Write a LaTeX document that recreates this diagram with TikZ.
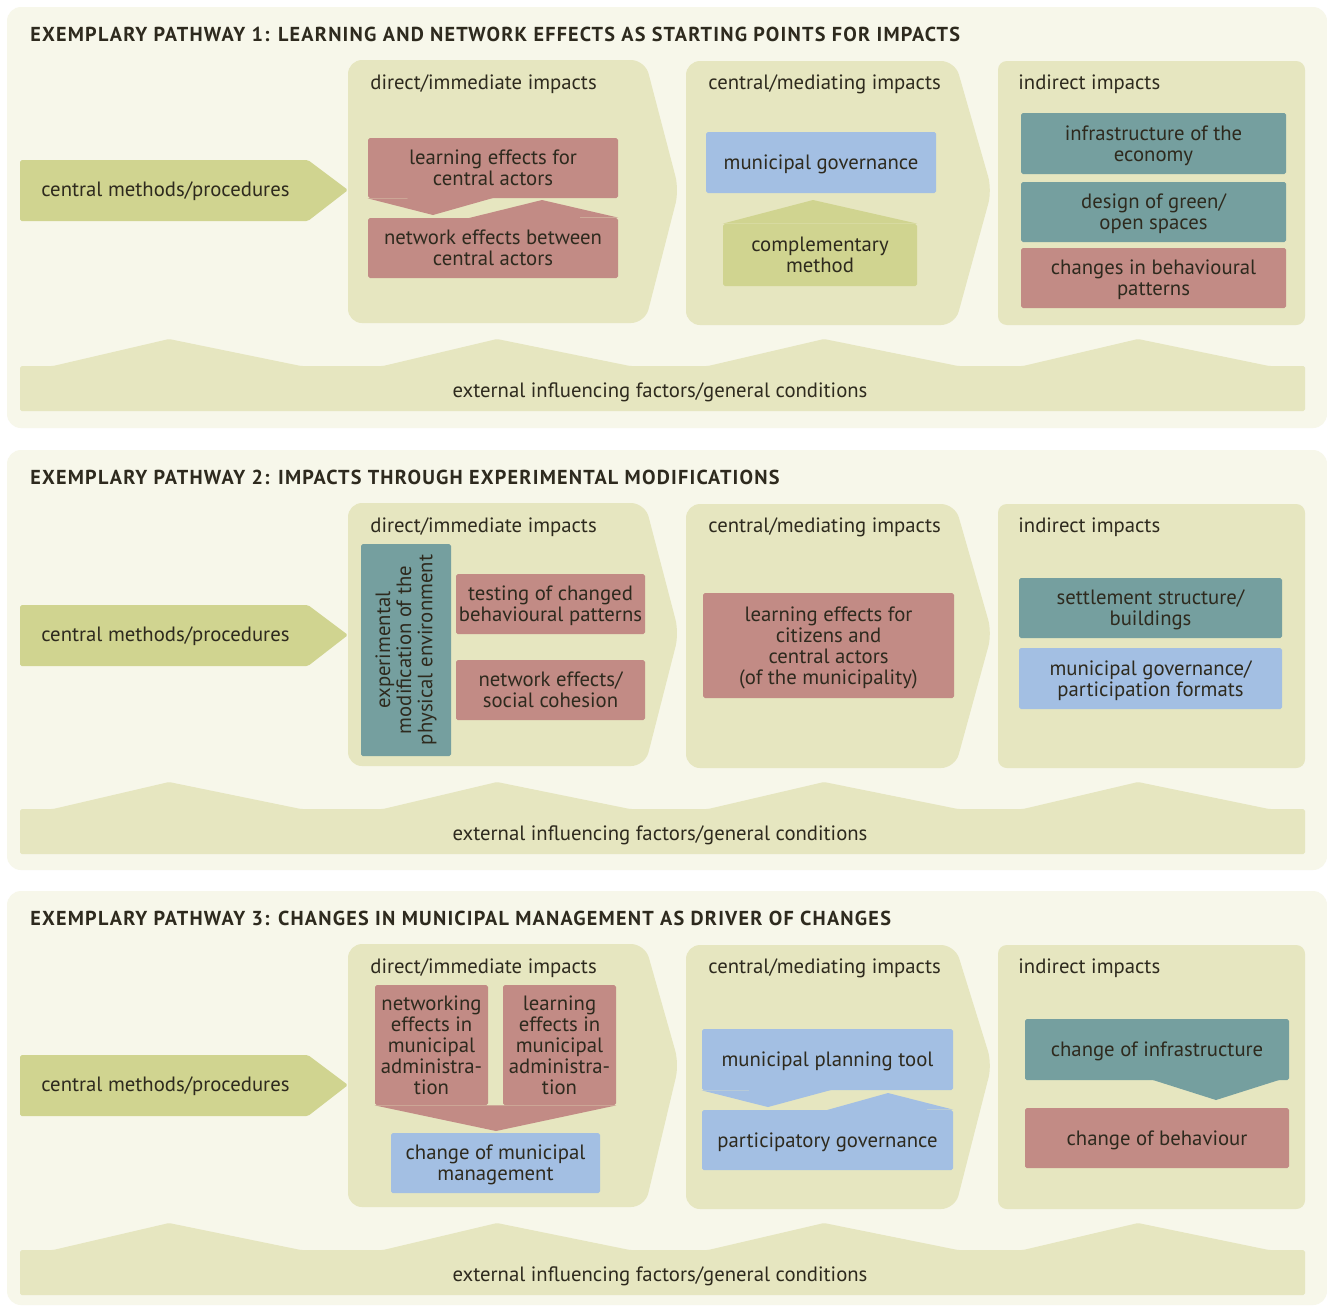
\documentclass[tikz,border=0pt]{standalone}
\usepackage{fontspec}
\setmainfont{PT Sans}
\usepackage{xcolor}
\usepackage{tikz}

\definecolor{panelbg}{HTML}{F7F7EA}
\definecolor{colbg}{HTML}{E6E6C0}
\definecolor{mgreen}{HTML}{D0D490}
\definecolor{bred}{HTML}{C28B85}
\definecolor{bblue}{HTML}{A3BFE3}
\definecolor{bteal}{HTML}{759F9F}
\definecolor{ink}{HTML}{2E2A1E}

\begin{document}
\begin{tikzpicture}[
  x=0.02cm, y=-0.02cm, text=ink,
  font=\fontsize{11.8}{12}\selectfont,
  sz/.style 2 args={minimum width=#1*0.02cm, minimum height=#2*0.02cm},
  box/.style={inner sep=0pt, align=center, rounded corners=1pt, text depth=0pt},
  redbox/.style={box, fill=bred},
  bluebox/.style={box, fill=bblue},
  tealbox/.style={box, fill=bteal},
  greenbox/.style={box, fill=mgreen},
  head/.style={anchor=west, inner sep=0pt},
  ttlfont/.style={font=\fontsize{11.5}{12}\selectfont\bfseries\addfontfeatures{LetterSpace=6}}]
  \fill[white] (0,0) rectangle (1327,1306);
  \useasboundingbox (0,0) rectangle (1327,1306);
  % the three pathway panels
  \foreach \i/\oy/\pb/\my/\ty/\ttl in {
    1/0/428/190/190/{EXEMPLARY PATHWAY 1: LEARNING AND NETWORK EFFECTS AS STARTING POINTS FOR IMPACTS},
    2/443/427/192/190/{EXEMPLARY PATHWAY 2: IMPACTS THROUGH EXPERIMENTAL MODIFICATIONS},
    3/884/421/201/180/{EXEMPLARY PATHWAY 3: CHANGES IN MUNICIPAL MANAGEMENT AS DRIVER OF CHANGES}} {
    \begin{scope}[shift={(0,\oy)}]
      \fill[panelbg, rounded corners=8pt] (7,7) rectangle (1327,\pb);
      \node[head, ttlfont] (t\i) at (30,34) {\ttl};
      \fill[mgreen, rounded corners=1pt] (20,\my-30) -- (308,\my-30) -- (348,\my) -- (308,\my+31) -- (20,\my+31) -- cycle;
      \node[head] (m\i) at (41,\my+1) {central methods/procedures};
      \fill[colbg, rounded corners=8pt] (348,60) -- (645,60) -- (679,\ty) -- (645,323) -- (348,323) -- cycle;
      \fill[colbg, rounded corners=8pt] (686,61) -- (955,61) -- (992,\ty) -- (955,325) -- (686,325) -- cycle;
      \fill[colbg, rounded corners=5pt] (998,61) rectangle (1305,325);
      \node[head] (d\i) at (370,84) {direct/immediate impacts};
      \node[head] (c\i) at (708,84) {central/mediating impacts};
      \node[head] (n\i) at (1018,84) {indirect impacts};
      \fill[colbg, rounded corners=1pt] (20,366) -- (53,366) -- (169,339) -- (301,366) -- (383,366) -- (497,339)
        -- (630,366) -- (708,366) -- (824,339) -- (958,366) -- (1023,366) -- (1138,339) -- (1269,366)
        -- (1305,366) -- (1305,411) -- (20,411) -- cycle;
      \node (x\i) at (660,392) {external influencing factors/general conditions};
    \end{scope}
  }
  % pathway 1
  \node[redbox, sz={250}{60}] (learn1) at (493,168) {learning effects for\\central actors};
  \fill[bred] (learn1.south west) -- (433,215) -- (493,198) -- cycle;
  \node[redbox, sz={250}{60}] (net1) at (493,248) {network effects between\\central actors};
  \fill[bred] (469,218) -- (542,200) -- (net1.north east) -- cycle;
  \node[bluebox, sz={230}{61}] (gov1) at (821,162.5) {municipal governance};
  \node[greenbox, sz={194}{62}] (comp1) at (820,255) {complementary\\method};
  \fill[mgreen] (comp1.north west) -- (813,200) -- (comp1.north east) -- cycle;
  \node[tealbox, sz={265}{61}] (infra1) at (1153.5,143.5) {infrastructure of the\\economy};
  \node[tealbox, sz={265}{60}] (green1) at (1153.5,212) {design of green/\\open spaces};
  \node[redbox, sz={265}{60}] (behav1) at (1153.5,278) {changes in behavioural\\patterns};
  % pathway 2
  \node[tealbox, sz={90}{212}] (expmod) at (406,650) {};
  \node[rotate=90, align=center, inner sep=0pt] (expmodtxt) at (expmod.center) {experimental\\modification of the\\physical environment};
  \node[redbox, sz={189}{60}] (testing) at (550.5,604) {testing of changed\\behavioural patterns};
  \node[redbox, sz={189}{60}] (netsoc) at (550.5,690) {network effects/\\social cohesion};
  \node[redbox, sz={251}{105}] (learncit) at (828.5,645.5) {learning effects for\\citizens and\\central actors\\(of the municipality)};
  \node[tealbox, sz={263}{60}] (settle) at (1150.5,608) {settlement structure/\\buildings};
  \node[bluebox, sz={263}{61}] (govpart) at (1150.5,678.5) {municipal governance/\\participation formats};
  % pathway 3
  \node[redbox, sz={113}{120}] (netadm) at (431.5,1045) {networking\\effects in\\municipal\\administra-\\tion};
  \node[redbox, sz={113}{120}] (learnadm) at (559.5,1045) {learning\\effects in\\municipal\\administra-\\tion};
  \fill[bred] (netadm.south west) -- (496,1131) -- (learnadm.south east) -- cycle;
  \node[bluebox, sz={209}{60}] (mgmt) at (495.5,1163) {change of municipal\\management};
  \node[bluebox, sz={251}{61}] (plan) at (827.5,1059.5) {municipal planning tool};
  \fill[bblue] (plan.south west) -- (768,1107) -- (831,1090) -- cycle;
  \node[bluebox, sz={251}{60}] (partgov) at (827.5,1140) {participatory governance};
  \fill[bblue] (827,1110) -- (888,1093) -- (partgov.north east) -- cycle;
  \node[tealbox, sz={264}{61}] (chinfra) at (1157,1049.5) {change of infrastructure};
  \fill[bteal] (1153,1080) -- (1216,1100) -- (1279,1080) -- cycle;
  \node[redbox, sz={264}{60}] (chbeh) at (1157,1138) {change of behaviour};
\end{tikzpicture}
\end{document}
